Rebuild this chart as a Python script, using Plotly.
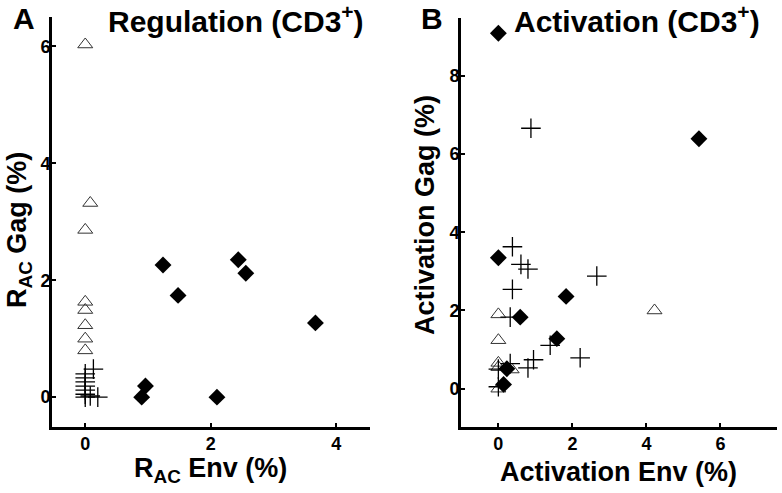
import plotly.graph_objects as go

W, H = 782, 493

# Panel A: Regulation (CD3+)
a_tri_x = [0, 0.08, 0, 0, 0, 0, 0, 0]
a_tri_y = [6.03, 3.32, 2.86, 1.63, 1.49, 1.23, 1.00, 0.80]
a_cross_x = [0.13, 0, 0, 0, 0, 0, 0, 0, 0.08, 0.2]
a_cross_y = [0.48, 0.40, 0.33, 0.26, 0.19, 0.12, 0.05, 0.0, 0.02, 0.0]
a_dia_x = [1.24, 2.44, 2.56, 1.48, 3.67, 0.96, 0.90, 2.10]
a_dia_y = [2.26, 2.35, 2.12, 1.74, 1.27, 0.19, 0.0, 0.0]

# Panel B: Activation (CD3+)
b_tri_x = [0, 0, 0, 0, 0.36, 0, 4.22]
b_tri_y = [1.90, 1.24, 0.66, 0.55, 0.49, 0.0, 2.0]
b_cross_x = [0.88, 0.38, 0.61, 0.80, 2.66, 0.38, 0.32, 1.40, 2.21, 0.95, 0.32, 0.80, 0, 0]
b_cross_y = [6.66, 3.63, 3.18, 3.06, 2.88, 2.54, 1.83, 1.11, 0.79, 0.74, 0.64, 0.53, 0.5, 0.05]
b_dia_x = [0, 5.42, 0, 1.83, 0.59, 1.58, 0.23, 0.14]
b_dia_y = [9.09, 6.39, 3.35, 2.36, 1.83, 1.28, 0.51, 0.11]

a_ticks_x = [0, 2, 4]
a_ticks_y = [0, 2, 4, 6]
b_ticks_x = [0, 2, 4, 6]
b_ticks_y = [0, 2, 4, 6, 8]


def px(x):
    return x / W


def py(y):
    return 1 - y / H


def bold_labels(vals):
    return [f'<b>{v}</b>' for v in vals]


fig = go.Figure()

def add_panel(xa, ya, tx, ty, cx, cy, dx, dy):
    fig.add_trace(go.Scatter(x=tx, y=ty, mode='markers', xaxis=xa, yaxis=ya,
                             marker=dict(symbol='triangle-up-open', size=13,
                                         color='#333', line=dict(width=1))))
    fig.add_trace(go.Scatter(x=cx, y=cy, mode='markers', xaxis=xa, yaxis=ya,
                             marker=dict(symbol='cross-thin-open', size=14,
                                         color='black', line=dict(width=1.3))))
    fig.add_trace(go.Scatter(x=dx, y=dy, mode='markers', xaxis=xa, yaxis=ya,
                             marker=dict(symbol='diamond', size=13, color='black')))

add_panel('x', 'y', a_tri_x, a_tri_y, a_cross_x, a_cross_y, a_dia_x, a_dia_y)
add_panel('x2', 'y2', b_tri_x, b_tri_y, b_cross_x, b_cross_y, b_dia_x, b_dia_y)

font_fam = 'Liberation Sans, Arial, sans-serif'
tickfont = dict(family=font_fam, size=18, color='black', weight='bold')
axis_common = dict(showline=True, linecolor='black', linewidth=3, showgrid=False,
                   zeroline=False, ticks='inside', ticklen=4, tickwidth=2,
                   tickcolor='black', tickfont=tickfont)

fig.update_layout(
    width=W, height=H,
    margin=dict(l=0, r=0, t=0, b=0),
    paper_bgcolor='white', plot_bgcolor='white',
    showlegend=False,
    font=dict(family=font_fam, color='black'),
    xaxis=dict(domain=[px(52), px(370)], range=[-0.53, 4.54], tickvals=a_ticks_x,
               ticktext=bold_labels(a_ticks_x), anchor='y', ticklabelstandoff=-2,
               **axis_common),
    yaxis=dict(domain=[py(427), py(17)], range=[-0.51, 6.5], tickvals=a_ticks_y,
               ticktext=bold_labels(a_ticks_y), anchor='x', ticklabelstandoff=-5,
               **axis_common),
    xaxis2=dict(domain=[px(461), px(777)], range=[-1.01, 7.53], tickvals=b_ticks_x,
                ticktext=bold_labels(b_ticks_x), anchor='y2', ticklabelstandoff=-2,
                **axis_common),
    yaxis2=dict(domain=[py(427), py(18)], range=[-0.98, 9.48], tickvals=b_ticks_y,
                ticktext=bold_labels(b_ticks_y), anchor='x2', ticklabelstandoff=-5,
                **axis_common),
)

texts = [
    ('<b>A</b>', 24, 19, 30, 0),
    ('<b>B</b>', 432, 19, 30, 0),
    ('<b>Regulation (CD3<sup>+</sup>)</b>', 236, 19, 30, 0),
    ('<b>Activation (CD3<sup>+</sup>)</b>', 637, 19, 30, 0),
    ('<b>R<sub>AC</sub> Env (%)</b>', 210, 470, 27, 0),
    ('<b>Activation Env (%)</b>', 618, 472, 27, 0),
    ('<b>R<sub>AC</sub> Gag (%)</b>', 19, 230, 27, -90),
    ('<b>Activation Gag (%)</b>', 425, 215, 27, -90),
]
for t, x, y, s, ang in texts:
    fig.add_annotation(text=t, x=px(x), y=py(y), xref='paper', yref='paper',
                       showarrow=False, xanchor='center', yanchor='middle',
                       textangle=ang, font=dict(family=font_fam, size=s, color='black'))

fig.write_html("out.html", config={'displayModeBar': False},
               post_script="document.body.style.margin='0';")
